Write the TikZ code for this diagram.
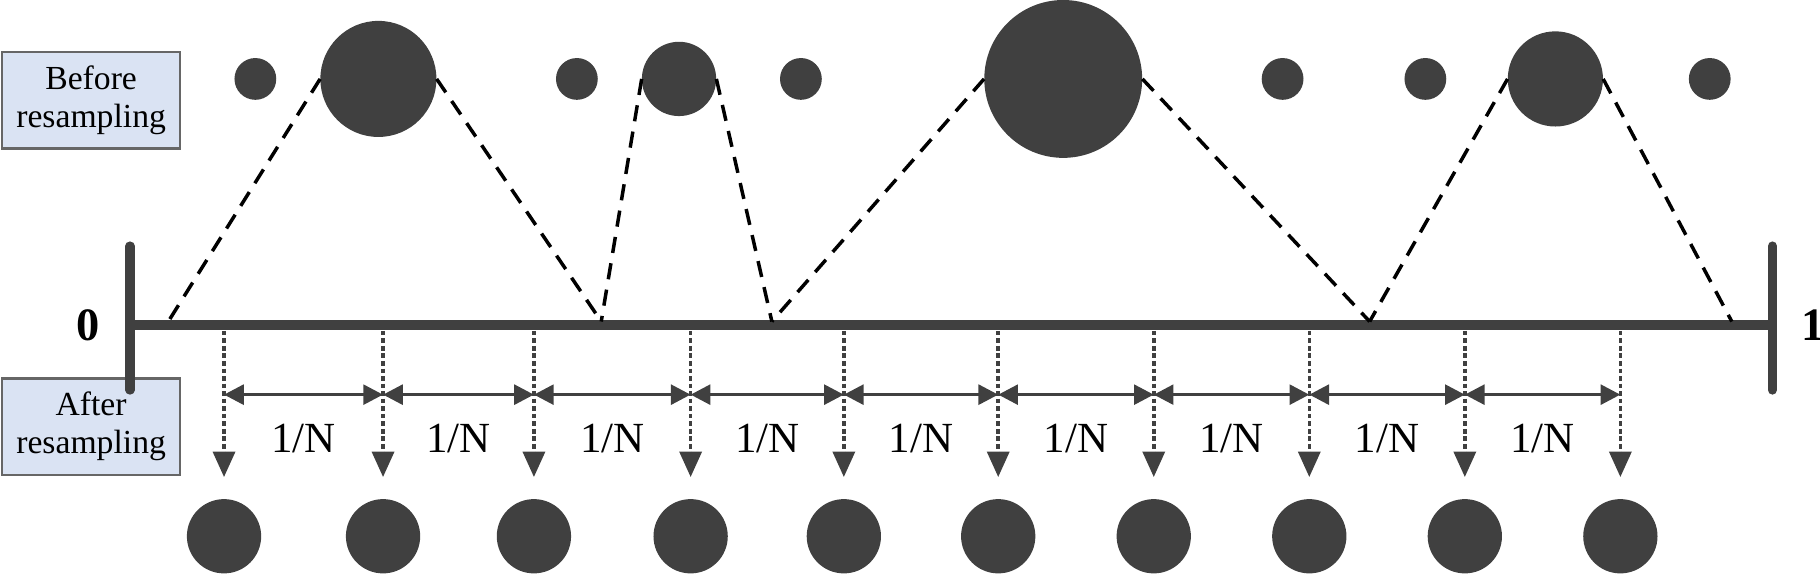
\documentclass[tikz,border=0pt]{standalone}
\usepackage{fontspec}
\setmainfont{Liberation Serif}
\usetikzlibrary{arrows.meta,calc}
\definecolor{dk}{HTML}{404040}
\definecolor{lb}{HTML}{DAE3F3}
\begin{document}
\begin{tikzpicture}[x=1pt,y=-1pt,
  lab/.style={draw=dk!80,line width=2pt,fill=lb,minimum width=153pt,minimum height=83pt,align=center,font=\fontsize{29}{33}\selectfont,inner sep=0pt},
  dot/.style={circle,fill=dk,inner sep=0pt},
  dsh/.style={line width=3pt,dash pattern=on 14pt off 9pt},
  vdot/.style={dk,line width=3pt,dash pattern=on 4pt off 2.5pt,-{Triangle[length=22pt,width=19pt]}},
  dbl/.style={dk,line width=3pt,{Triangle[length=17pt,width=17pt]}-{Triangle[length=17pt,width=17pt]}},
  ntxt/.style={font=\fontsize{37}{40}\selectfont}]
\useasboundingbox (0,0) rectangle (1568,495);
\node[lab] (before) at (78.5,86.5) {Before\\resampling};
\node[lab] (after) at (78.5,367.5) {After\\resampling};
\coordinate (a0) at (112,280); \coordinate (a1) at (1527,280);
\draw[dk,line width=8pt] (a0) -- (a1);
\draw[dk,line width=8pt,line cap=round] (112,212) -- (112,336);
\draw[dk,line width=8pt,line cap=round] (1527,212) -- (1527,336);
\node[font=\fontsize{40}{40}\selectfont\bfseries] (zero) at (76,280) {0};
\node[font=\fontsize{40}{40}\selectfont\bfseries] (one) at (1562,280) {1};
\foreach \x/\r [count=\i] in {220/18,326/50,497/18,585/32,690/18,916/68,1105/18,1228/18,1340/41,1473/18}
  \node[dot,minimum size=2*\r pt] (t\i) at (\x,68) {};
\draw[dsh] (t2.west) -- (145,277); \draw[dsh] (t2.east) -- (518,277);
\draw[dsh] (t4.west) -- (518,277); \draw[dsh] (t4.east) -- (665,277);
\draw[dsh] (t6.west) -- (665,277); \draw[dsh] (t6.east) -- (1180,277);
\draw[dsh] (t9.west) -- (1180,277); \draw[dsh] (t9.east) -- (1492,277);
\foreach \x [count=\i] in {193,330,460,595,727,860,994,1128,1262,1396}{
  \coordinate (s\i) at (\x,285);
  \coordinate (m\i) at (\x,340);
  \node[dot,minimum size=64pt] (b\i) at (\x,462) {};
  \draw[vdot] (s\i) -- (\x,411);
}
\foreach \i [evaluate=\i as \j using int(\i+1)] in {1,...,9}{
  \draw[dbl] (m\i) -- (m\j);
  \node[ntxt] at ($(m\i)!0.5!(m\j)+(0,38)$) {1/N};
}
\end{tikzpicture}
\end{document}
